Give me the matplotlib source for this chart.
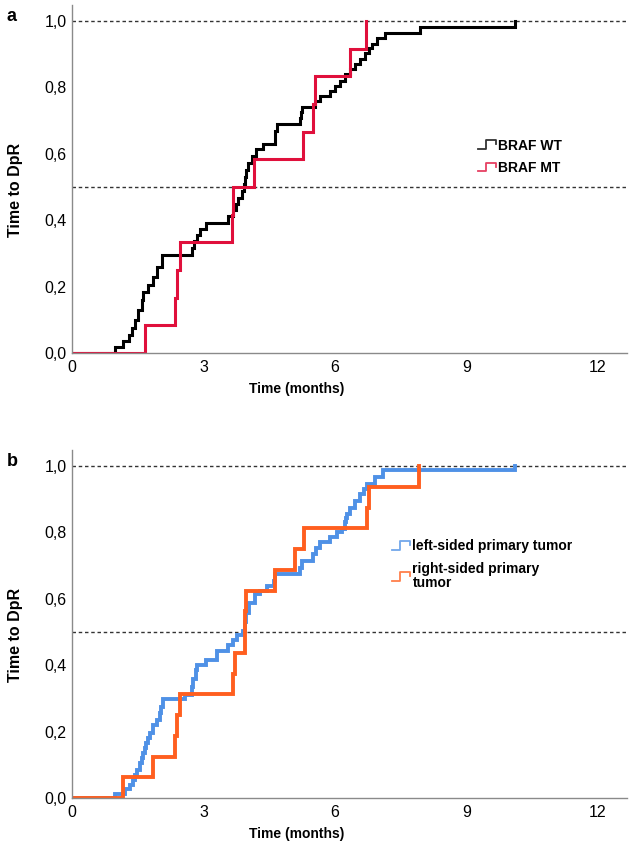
import numpy as np
import matplotlib
matplotlib.use("Agg")
import matplotlib.pyplot as plt
from matplotlib.lines import Line2D
from matplotlib.legend_handler import HandlerBase
from matplotlib.ticker import FuncFormatter

plt.rcParams["font.family"] = ["Liberation Sans", "DejaVu Sans"]

# -------- data --------
# panel a: BRAF WT
wt_t = [0.98, 1.17, 1.29, 1.36, 1.44, 1.51, 1.59, 1.63, 1.74, 1.84,
        1.93, 2.05, 2.73, 2.78, 2.85, 2.92, 3.07, 3.57, 3.67, 3.74,
        3.80, 3.87, 3.92, 3.95, 3.98, 4.02, 4.10, 4.21, 4.36, 4.63,
        4.67, 5.21, 5.22, 5.24, 5.55, 5.66, 5.89, 6.00, 6.12, 6.23,
        6.35, 6.47, 6.58, 6.69, 6.77, 6.85, 6.96, 7.15, 7.95, 10.11]
wt_v = [0.018, 0.035, 0.053, 0.075, 0.10, 0.13, 0.16, 0.185, 0.205, 0.23,
        0.26, 0.296, 0.316, 0.336, 0.356, 0.372, 0.392, 0.412, 0.43, 0.45,
        0.467, 0.487, 0.51, 0.53, 0.55, 0.573, 0.593, 0.613, 0.628, 0.67,
        0.689, 0.707, 0.725, 0.742, 0.759, 0.774, 0.79, 0.805, 0.82, 0.84,
        0.855, 0.87, 0.885, 0.905, 0.92, 0.93, 0.948, 0.964, 0.981, 1.0]

# panel a: BRAF MT
mt_t = [1.67, 2.35, 2.40, 2.47, 3.65, 3.68, 4.15, 5.28, 5.51, 5.55, 6.35, 6.71]
mt_v = [0.083, 0.167, 0.25, 0.333, 0.417, 0.5, 0.583, 0.667, 0.75, 0.833, 0.917, 1.0]

# panel b: left-sided primary tumor
left_t = [0.98, 1.20, 1.32, 1.40, 1.44, 1.48, 1.55, 1.59, 1.63, 1.66,
          1.70, 1.74, 1.78, 1.86, 1.93, 2.00, 2.04, 2.08, 2.58, 2.73,
          2.77, 2.82, 2.86, 3.07, 3.30, 3.57, 3.68, 3.76, 3.91, 3.94,
          3.98, 4.05, 4.17, 4.28, 4.45, 4.62, 4.64, 5.21, 5.24, 5.51,
          5.58, 5.66, 5.89, 6.04, 6.16, 6.23, 6.25, 6.27, 6.35, 6.47,
          6.58, 6.66, 6.73, 6.92, 7.11, 10.11]
left_v = [0.013, 0.026, 0.04, 0.055, 0.07, 0.085, 0.105, 0.12, 0.135, 0.15,
          0.165, 0.18, 0.195, 0.22, 0.235, 0.256, 0.275, 0.299, 0.31, 0.335,
          0.36, 0.387, 0.40, 0.417, 0.442, 0.462, 0.477, 0.49, 0.502, 0.53,
          0.558, 0.588, 0.613, 0.625, 0.638, 0.655, 0.674, 0.694, 0.714, 0.734,
          0.754, 0.77, 0.785, 0.80, 0.81, 0.83, 0.843, 0.855, 0.874, 0.894,
          0.915, 0.93, 0.945, 0.966, 0.988, 1.0]

# panel b: right-sided primary tumor
right_t = [1.16, 1.86, 2.35, 2.40, 2.47, 3.68, 3.72, 3.95, 3.96, 3.97,
           4.63, 5.09, 5.30, 6.73, 6.77, 7.93]
right_v = [0.0625, 0.125, 0.1875, 0.25, 0.3125, 0.375, 0.4375, 0.5, 0.5625, 0.625,
           0.6875, 0.75, 0.8125, 0.875, 0.9375, 1.0]

x_ticks = [0, 3, 6, 9, 12]
y_ticks = [0.0, 0.2, 0.4, 0.6, 0.8, 1.0]
ref_lines = [0.5, 1.0]


class StepHandler(HandlerBase):
    # little step glyph like the SPSS legend
    def create_artists(self, legend, orig_handle, xdescent, ydescent,
                       width, height, fontsize, trans):
        x0, y0 = -xdescent, -ydescent
        xs = [x0, x0 + 0.45 * width, x0 + 0.45 * width, x0 + width, x0 + width]
        ys = [y0 + 0.05 * height, y0 + 0.05 * height, y0 + 0.95 * height,
              y0 + 0.95 * height, y0 + 0.55 * height]
        ln = Line2D(xs, ys, color=orig_handle.get_color(), lw=1.3, alpha=0.8)
        ln.set_transform(trans)
        return [ln]


def km(ax, t, v, color, lw, label):
    (h,) = ax.step(np.r_[0, t], np.r_[0, v], where="post", color=color,
                   lw=lw, label=label, solid_joinstyle="miter")
    return h


def style(ax, panel):
    for y in ref_lines:
        ax.axhline(y, color="#333333", lw=1.0, ls=(0, (2.5, 2)), zorder=1)
    ax.set_xlim(0, 12.67)
    ax.set_ylim(0, 1.048)
    ax.set_xticks(x_ticks)
    ax.set_yticks(y_ticks)
    ax.yaxis.set_major_formatter(FuncFormatter(lambda v, p: f"{v:.1f}".replace(".", ",")))
    ax.tick_params(length=0, labelsize=11.5, pad=5)
    ax.tick_params(axis="y", pad=4)
    for s in ["top", "right"]:
        ax.spines[s].set_visible(False)
    for s in ["left", "bottom"]:
        ax.spines[s].set_color("#8a8a8a")
        ax.spines[s].set_linewidth(1.0)
    ax.set_xlabel("Time (months)", fontsize=10, fontweight="bold")
    ax.set_ylabel("Time to DpR", fontsize=11.5, fontweight="bold")
    ax.xaxis.set_label_coords(0.405, -0.083)
    ax.yaxis.set_label_coords(-0.088, 0.47)
    ax.text(-0.118, 0.968, panel, transform=ax.transAxes, fontsize=13,
            fontweight="bold", va="center", ha="left")


def add_legend(ax, handles, anchor, spacing):
    leg = ax.legend(handles=handles, handler_map={h: StepHandler() for h in handles},
                    loc="upper left", bbox_to_anchor=anchor, frameon=False,
                    prop={"size": 10, "weight": "bold"}, handlelength=1.3,
                    handletextpad=0.15, labelspacing=spacing, borderaxespad=0)
    for t in leg.get_texts():
        t.set_linespacing(1.0)
    return leg


fig = plt.figure(figsize=(6.30, 8.68), dpi=100)
ax_a = fig.add_axes([0.1143, 0.5933, 0.881, 0.4009])
ax_b = fig.add_axes([0.1143, 0.0806, 0.881, 0.4009])

# -------- panel a --------
style(ax_a, "a")
h1 = km(ax_a, wt_t, wt_v, "black", 2.2, "BRAF WT")
h2 = km(ax_a, mt_t, mt_v, "#e0103c", 2.2, "BRAF MT")
add_legend(ax_a, [h1, h2], (0.722, 0.632), 0.6)

# -------- panel b --------
style(ax_b, "b")
h3 = km(ax_b, left_t, left_v, "#4f91e6", 2.8, "left-sided primary tumor")
h4 = km(ax_b, right_t, right_v, "#ff5f1f", 2.8, "right-sided primary\ntumor")
add_legend(ax_b, [h3, h4], (0.567, 0.76), 0.65)

fig.savefig("out.png", dpi=100)
